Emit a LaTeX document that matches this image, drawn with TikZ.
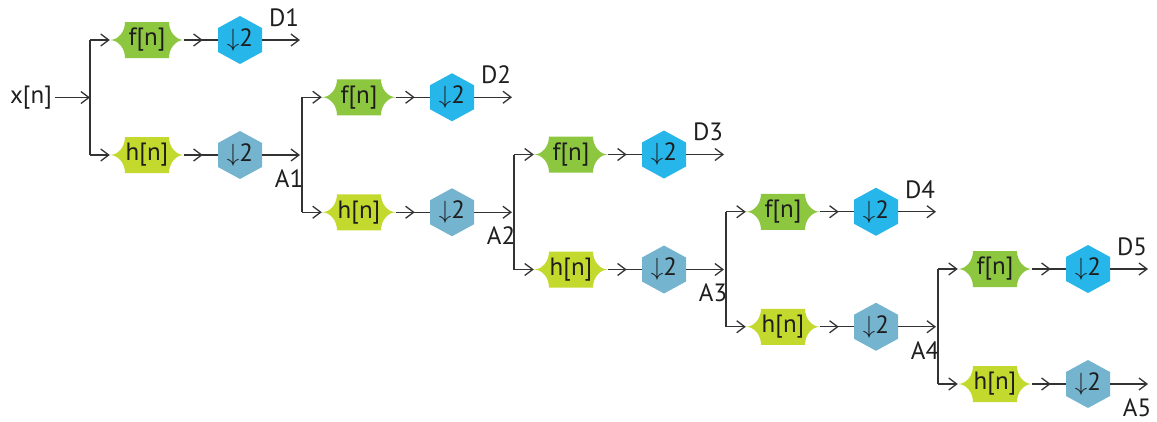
\documentclass[tikz,border=0pt]{standalone}
\usepackage{fontspec}
\setmainfont{PT Sans}
\usetikzlibrary{arrows.meta,calc,decorations.markings}
\definecolor{fgreen}{HTML}{8DC63F}
\definecolor{hgreen}{HTML}{C4D92E}
\definecolor{dcyan}{HTML}{27B6E9}
\definecolor{asteel}{HTML}{74B4CF}
\definecolor{wirecol}{HTML}{333333}
\definecolor{txtcol}{HTML}{1E1E1E}
\tikzset{
  wire/.style={draw=wirecol, line width=1.3pt},
  tipend/.style={-{Straight Barb[length=8pt,width=12pt]}},
  midtip/.style={postaction={decorate}, decoration={markings,
     mark=at position 0.55 with {\arrow{Straight Barb[length=8pt,width=12pt]}}}},
  lbl/.style={font=\fontsize{25}{28}\selectfont, text=txtcol, inner sep=0pt},
  filt/.style={rectangle, minimum width=74pt, minimum height=36pt, inner sep=0pt,
     font=\fontsize{25}{28}\selectfont, text=txtcol, fill=white,
     path picture={\fill[#1] let \p1=(path picture bounding box.north west),
        \p2=(path picture bounding box.south east) in
        (\x1+15pt,\y1) -- (\x2-15pt,\y1)
        .. controls (\x2-15pt,\y1-10pt) and (\x2-8pt,{(\y1+\y2)/2}) .. (\x2,{(\y1+\y2)/2})
        .. controls (\x2-8pt,{(\y1+\y2)/2}) and (\x2-15pt,\y2+10pt) .. (\x2-15pt,\y2)
        -- (\x1+15pt,\y2)
        .. controls (\x1+15pt,\y2+10pt) and (\x1+8pt,{(\y1+\y2)/2}) .. (\x1,{(\y1+\y2)/2})
        .. controls (\x1+8pt,{(\y1+\y2)/2}) and (\x1+15pt,\y1-10pt) .. cycle;}},
  hexa/.style={rectangle, minimum width=44pt, minimum height=48pt, inner sep=0pt,
     font=\fontsize{25}{28}\selectfont, text=txtcol, fill=white,
     path picture={\fill[#1] let \p1=(path picture bounding box.north west),
        \p2=(path picture bounding box.south east) in
        ({(\x1+\x2)/2},\y1) -- (\x2,\y1-12pt) -- (\x2,\y2+12pt) -- ({(\x1+\x2)/2},\y2)
        -- (\x1,\y2+12pt) -- (\x1,\y1-12pt) -- cycle;}}
}
\begin{document}
\begin{tikzpicture}[x=1pt,y=-1pt]
\useasboundingbox (0,0) rectangle (1157,421);
\node[lbl] (xn) at (31,97.5) {x[n]};
\coordinate (in0) at (90,97.5);
\draw[wire,tipend] (xn.east) ++(3pt,0) -- (in0);
\foreach \k/\D/\A in {0/D1/A1,1/D2/A2,2/D3/A3,3/D4/A4,4/D5/A5}{
  \pgfmathsetmacro{\X}{90+212*\k}
  \pgfmathsetmacro{\Y}{97.5+57.25*\k}
  \coordinate (top\k) at (\X,\Y-57.5);
  \coordinate (bot\k) at (\X,\Y+57.5);
  \node[filt=fgreen] (f\k) at (\X+57,\Y-57.5) {f[n]};
  \node[filt=hgreen] (h\k) at (\X+57,\Y+57.5) {h[n]};
  \node[hexa=dcyan] (df\k) at (\X+150,\Y-57.5) {$\downarrow$2};
  \node[hexa=asteel] (dh\k) at (\X+150,\Y+57.5) {$\downarrow$2};
  \coordinate (dend\k) at (\X+210,\Y-57.5);
  \coordinate (aend\k) at (\X+210,\Y+57.5);
  \node[lbl] (dl\k) at (\X+194,\Y-80) {\D};
  \node[lbl] (al\k) at (\X+199,\Y+81) {\A};
  \draw[wire] (top\k) -- (bot\k);
  \draw[wire,tipend] (top\k) -- (f\k.west);
  \draw[wire,tipend] (bot\k) -- (h\k.west);
  \draw[wire,midtip] (f\k.east) -- (df\k.west);
  \draw[wire,midtip] (h\k.east) -- (dh\k.west);
  \draw[wire,tipend] (df\k.east) -- (dend\k);
  \draw[wire,tipend] (dh\k.east) -- (aend\k);
}
\end{tikzpicture}
\end{document}
